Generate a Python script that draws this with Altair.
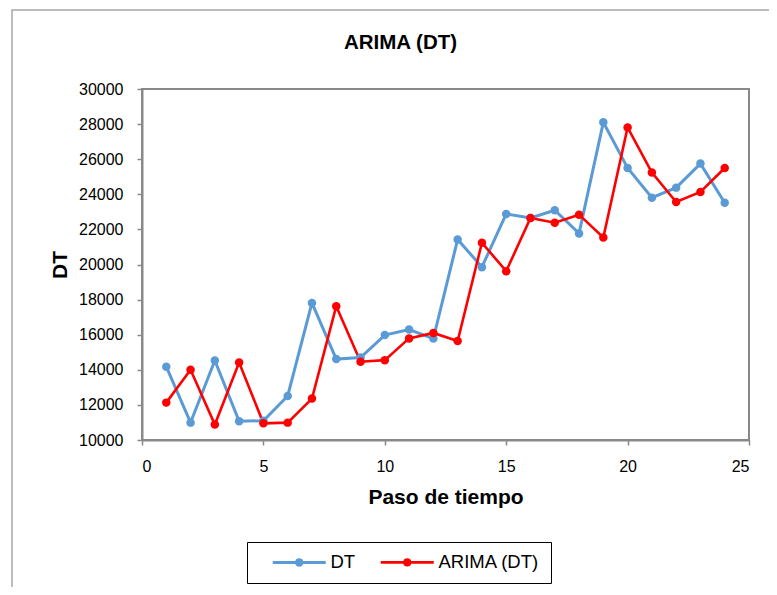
import altair as alt
import pandas as pd

steps = list(range(1, 25))
dt_values = [14180, 10990, 14530, 11070, 11100, 12510, 17810, 14610, 14700, 15980,
             16290, 15780, 21430, 19850, 22880, 22650, 23090, 21770, 28100, 25500,
             23810, 24380, 25750, 23520]
arima_values = [12130, 14000, 10880, 14420, 10950, 10990, 12360, 17620, 14460, 14550,
                15790, 16100, 15640, 21240, 19620, 22650, 22380, 22840, 21540, 27810,
                25240, 23560, 24130, 25500]
series_names = ["DT", "ARIMA (DT)"]
series_colors = ["#5B9BD5", "#FF0000"]
x_ticks = [0, 5, 10, 15, 20, 25]
y_ticks = list(range(10000, 30001, 2000))

df = pd.DataFrame({
    "paso": steps + steps,
    "valor": dt_values + arima_values,
    "serie": [series_names[0]] * len(steps) + [series_names[1]] * len(steps),
})

W, H = 607, 351
PADL, PADT = 134, 81
SVG_W, SVG_H = 761, 579

legend_path = ("M5.5,0H58.5"
               "M34.75,0A2.75,2.75,0,1,1,29.25,0A2.75,2.75,0,1,1,34.75,0"
               "M33,0A1,1,0,1,1,31,0A1,1,0,1,1,33,0")

color = alt.Color(
    "serie:N",
    scale=alt.Scale(domain=series_names, range=series_colors),
    legend=alt.Legend(
        title=None, orient="none", legendX=105, legendY=453, direction="horizontal",
        strokeColor="#000000", padding=11, symbolType=legend_path, symbolSize=4,
        symbolStrokeWidth=2.5, labelOffset=54, columnPadding=10,
        labelFont="Liberation Sans", labelFontSize=18.5, labelColor="#000000",
    ),
)

lines = alt.Chart(df).mark_line(
    point=alt.OverlayMarkDef(filled=True, size=72, opacity=1),
).encode(
    x=alt.X("paso:Q", scale=alt.Scale(domain=[0, 25], nice=False),
            axis=alt.Axis(values=x_ticks, title="Paso de tiempo", titleY=63,
                          titleBaseline="alphabetic")),
    y=alt.Y("valor:Q", scale=alt.Scale(domain=[10000, 30000], nice=False, zero=False),
            axis=alt.Axis(values=y_ticks, format="d", title="DT", titleAngle=-90,
                          titleX=-82, titleY=H / 2, titleAlign="center",
                          titleBaseline="middle")),
    color=color,
    strokeWidth=alt.StrokeWidth("serie:N", scale=alt.Scale(domain=series_names, range=[3, 2.6]),
                                legend=None),
    order=alt.Order("paso:Q"),
)

frame = alt.Chart(pd.DataFrame({"f": [0]})).mark_rect(
    fill="transparent", stroke="#a6a6a6", strokeWidth=1.5
).encode(
    x=alt.value(-130), y=alt.value(-79), x2=alt.value(W + 200), y2=alt.value(H + 300)
)

chart = alt.layer(frame, lines).properties(
    width=W, height=H,
    title=alt.TitleParams("ARIMA (DT)", font="Liberation Sans", fontSize=20.5, fontWeight="bold",
                          color="#000000", anchor="middle", dx=-45, offset=-44),
    autosize=alt.AutoSizeParams(type="none"),
    padding={"left": PADL, "top": PADT, "right": SVG_W - PADL - W, "bottom": SVG_H - PADT - H},
).configure_view(
    stroke="#898989", strokeWidth=2
).configure_axis(
    domainColor="#898989", domainWidth=2, tickColor="#898989", tickWidth=1.5, tickSize=5,
    grid=False, labelFont="Liberation Sans", labelFontSize=16, labelColor="#000000",
    labelPadding=14, titleFont="Liberation Sans", titleFontSize=21, titleFontWeight="bold",
    titleColor="#000000",
).configure_axisX(labelPadding=13)

chart.save("out.html", embed_options={"renderer": "svg", "actions": False})
